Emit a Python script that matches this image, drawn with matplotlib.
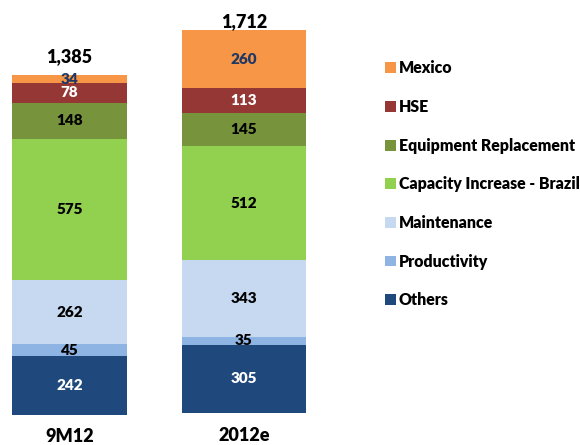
import matplotlib
matplotlib.use("Agg")
import matplotlib.pyplot as plt
from matplotlib.patches import Patch

plt.rcParams['font.family'] = ['Lato', 'DejaVu Sans']

periods = ["9M12", "2012e"]
segments = ["Others", "Productivity", "Maintenance", "Capacity Increase - Brazil",
            "Equipment Replacement", "HSE", "Mexico"]
values_9m12 = [242, 45, 262, 575, 148, 78, 34]
values_2012e = [305, 35, 343, 512, 145, 113, 260]
totals = ["1,385", "1,712"]

colors = ["#1F497D", "#8DB4E2", "#C6D9F1", "#92D050", "#77933C", "#953735", "#F79646"]
label_colors = ["white", "black", "black", "black", "black", "white", "#1F3864"]

W, H = 580, 445
fig = plt.figure(figsize=(W / 100, H / 100), dpi=100)

# the two bars come from separately scaled charts, so each gets its own axes
# (left px, width px, bottom px from top, bar height px)
bar_boxes = [(12, 115, 415, 340), (182, 124, 413, 383)]
total_offsets = [7, 0]
tick_pads = [9, 10]

for i, (vals, (x0, bw, ybot, bar_px)) in enumerate(zip([values_9m12, values_2012e], bar_boxes)):
    ax = fig.add_axes([x0 / W, (H - ybot) / H, bw / W, ybot / H])
    total = sum(vals)
    ax.set_ylim(0, total * ybot / bar_px)
    ax.set_xlim(-0.5, 0.5)
    bottom = 0
    for v, c, lc in zip(vals, colors, label_colors):
        ax.bar(0, v, width=1.0, bottom=bottom, color=c, edgecolor="none")
        ax.text(0, bottom + v / 2, str(v), ha="center", va="center",
                fontsize=11, fontweight="heavy", color=lc)
        bottom += v
    ax.annotate(totals[i], (0, bottom), xytext=(0, total_offsets[i]),
                textcoords="offset points", ha="center", va="bottom",
                fontsize=13, fontweight="heavy")
    ax.set_xticks([0])
    ax.set_xticklabels([periods[i]], fontsize=13, fontweight="heavy")
    ax.tick_params(axis="x", length=0, pad=tick_pads[i])
    ax.set_yticks([])
    for s in ax.spines.values():
        s.set_visible(False)
    ax.patch.set_alpha(0)

handles = [Patch(facecolor=c, edgecolor="none") for c in colors][::-1]
fig.legend(handles, segments[::-1], loc="upper left",
           bbox_to_anchor=(378.5 / W, 1 - 54 / H), frameon=False,
           prop={"size": 11.4, "weight": "heavy"},
           handlelength=0.69, handleheight=0.69, handletextpad=0.19,
           labelspacing=1.43, borderaxespad=0)

fig.savefig("out.png", dpi=100)
